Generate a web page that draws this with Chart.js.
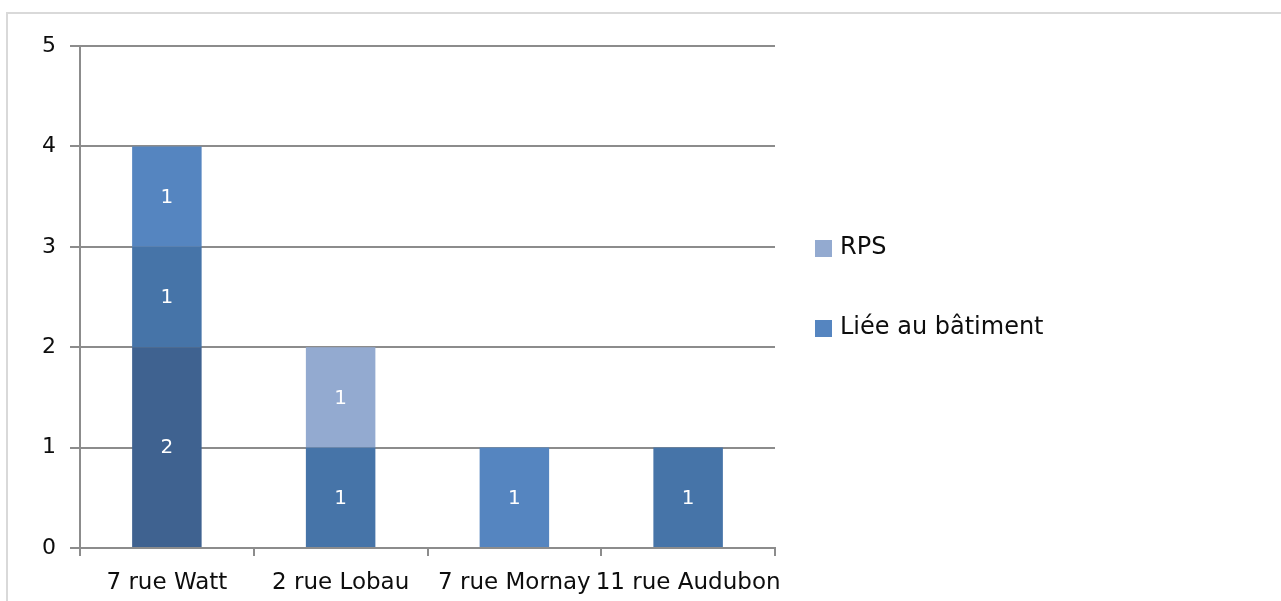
<!DOCTYPE html>
<html>
<head>
<meta charset="utf-8">
<script src="https://cdn.jsdelivr.net/npm/chart.js@4/dist/chart.umd.min.js"></script>
<style>
  html, body { margin: 0; padding: 0; background: #fff; }
  #wrap { width: 1281px; height: 601px; }
</style>
</head>
<body>
<div id="wrap"><canvas id="chart" width="1281" height="601"></canvas></div>
<script>
// données du graphique
const categories = ["7 rue Watt", "2 rue Lobau", "7 rue Mornay", "11 rue Audubon"];
const serie1 = [2, 0, 0, 0];
const serie2 = [1, 1, 0, 1];
const lieeBatiment = [1, 0, 1, 0];
const rps = [0, 1, 0, 0];
const yTicks = [0, 1, 2, 3, 4, 5];

const FONT = "'DejaVu Sans', sans-serif";
const legendSeries = ["RPS", "Liée au bâtiment"];

// cadre gris autour du graphique
const cadre = {
    id: "cadre",
    beforeDraw(chart) {
        const ctx = chart.ctx;
        ctx.save();
        ctx.fillStyle = "#fff";
        ctx.fillRect(0, 0, chart.width, chart.height);
        ctx.strokeStyle = "#d9d9d9";
        ctx.lineWidth = 2;
        ctx.strokeRect(7, 13, chart.width + 20, chart.height + 20);
        ctx.restore();
    },
};

// valeurs au centre des segments
const etiquettes = {
    id: "etiquettes",
    afterDatasetsDraw(chart) {
        const ctx = chart.ctx;
        ctx.save();
        ctx.fillStyle = "#fff";
        ctx.font = "20px " + FONT;
        ctx.textAlign = "center";
        ctx.textBaseline = "middle";
        chart.data.datasets.forEach((ds, i) => {
            const meta = chart.getDatasetMeta(i);
            meta.data.forEach((bar, j) => {
                const v = ds.data[j];
                if (!v) return;
                const { x, y, base } = bar.getProps(["x", "y", "base"], true);
                ctx.fillText(String(v), x, (y + base) / 2 + 1);
            });
        });
        ctx.restore();
    },
};

// légende à droite (seulement les séries nommées)
const legende = {
    id: "legende",
    afterDraw(chart) {
        const ctx = chart.ctx;
        ctx.save();
        ctx.font = "24px " + FONT;
        ctx.textBaseline = "middle";
        legendSeries.forEach((nom, k) => {
            const ds = chart.data.datasets.find((d) => d.label === nom);
            const y = 248 + k * 80;
            ctx.fillStyle = ds.backgroundColor;
            ctx.fillRect(815, y - 8, 17, 17);
            ctx.fillStyle = "#0d0d0d";
            ctx.fillText(nom, 840, y);
        });
        ctx.restore();
    },
};

new Chart(document.getElementById("chart"), {
    type: "bar",
    data: {
        labels: categories,
        datasets: [
            { label: "Série 1", data: serie1, backgroundColor: "#3f6290" },
            { label: "Série 2", data: serie2, backgroundColor: "#4674a8" },
            { label: "Liée au bâtiment", data: lieeBatiment, backgroundColor: "#5585c0" },
            { label: "RPS", data: rps, backgroundColor: "#93aad0" },
        ],
    },
    options: {
        responsive: false,
        animation: false,
        layout: { padding: { left: 0, top: 46, right: 506, bottom: 0 } },
        datasets: { bar: { categoryPercentage: 0.4, barPercentage: 1, borderWidth: 0 } },
        plugins: {
            legend: { display: false },
            tooltip: { enabled: false },
        },
        scales: {
            x: {
                stacked: true,
                afterFit: (s) => { s.height = 53; },
                grid: {
                    offset: true,
                    drawOnChartArea: false,
                    color: "#8c8c8c",
                    lineWidth: 2,
                    tickLength: 8,
                },
                border: { color: "#8c8c8c", width: 2 },
                ticks: {
                    color: "#0d0d0d",
                    font: { family: FONT, size: 23 },
                    padding: 13,
                    maxRotation: 0,
                    autoSkip: false,
                },
            },
            y: {
                stacked: true,
                min: 0,
                max: 5,
                afterFit: (s) => { s.width = 80; },
                afterBuildTicks: (s) => { s.ticks = yTicks.map((v) => ({ value: v })); },
                grid: {
                    color: "#8c8c8c",
                    lineWidth: 2,
                    tickLength: 10,
                },
                border: { color: "#8c8c8c", width: 2 },
                ticks: {
                    color: "#0d0d0d",
                    font: { family: FONT, size: 22 },
                    padding: 14,
                },
            },
        },
    },
    plugins: [cadre, etiquettes, legende],
});
</script>
</body>
</html>
